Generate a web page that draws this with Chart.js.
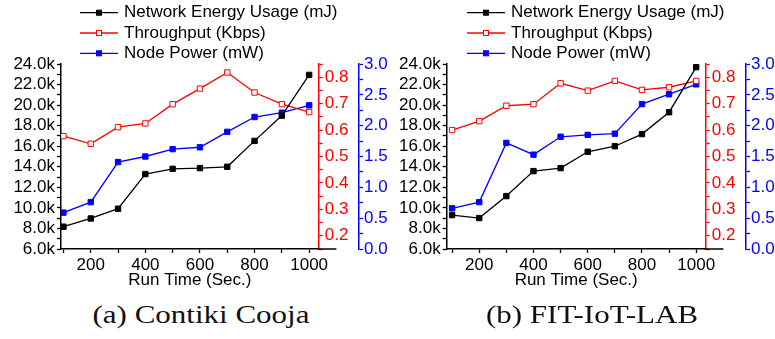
<!DOCTYPE html>
<html>
<head>
<meta charset="utf-8">
<script src="https://cdn.jsdelivr.net/npm/chart.js@4/dist/chart.umd.min.js"></script>
<style>
  body { margin: 0; width: 775px; height: 339px; overflow: hidden; position: relative; background: #fff; }
  canvas { position: absolute; top: 0; }
  .caption {
    position: absolute; top: 302px; width: 300px; text-align: center;
    font-family: "Liberation Serif", "DejaVu Serif", serif; font-size: 25px; line-height: 26px;
    transform: scaleX(1.24); transform-origin: center; color: #111;
  }
</style>
</head>
<body>
<canvas id="chartA" width="390" height="300" style="left:0"></canvas>
<canvas id="chartB" width="390" height="300" style="left:387px"></canvas>
<div class="caption" style="left:51px">(a) Contiki Cooja</div>
<div class="caption" style="left:442px">(b) FIT-IoT-LAB</div>
<script>
// run time on the x axis (seconds)
const runTime = [100, 200, 300, 400, 500, 600, 700, 800, 900, 1000];

// (a) Contiki Cooja
const energyA = [8170, 8970, 9920, 13290, 13800, 13870, 14000, 16520, 18980, 22940];
const throughputA = [0.577, 0.548, 0.611, 0.625, 0.698, 0.757, 0.818, 0.742, 0.698, 0.668];
const powerA = [0.59, 0.76, 1.41, 1.50, 1.62, 1.65, 1.90, 2.14, 2.21, 2.33];

// (b) FIT-IoT-LAB
const energyB = [9300, 9010, 11150, 13580, 13870, 15460, 16000, 17180, 19310, 23690];
const throughputB = [0.600, 0.634, 0.692, 0.698, 0.777, 0.749, 0.786, 0.752, 0.762, 0.786];
const powerB = [0.66, 0.76, 1.72, 1.53, 1.82, 1.85, 1.87, 2.35, 2.51, 2.67];

const seriesLabels = ['Network Energy Usage (mJ)', 'Throughput (Kbps)', 'Node Power (mW)'];

Chart.defaults.font.family = '"Liberation Sans", Arial, sans-serif';
Chart.defaults.font.size = 17;
Chart.defaults.color = '#000';

const BLACK = '#000';
const RED = '#ff0000';
const BLUE = '#0000ff';

// legend drawn as line + marker, stacked at the top left
const lineLegend = {
    id: 'lineLegend',
    afterDraw(chart) {
        const ctx = chart.ctx;
        ctx.save();
        chart.data.datasets.forEach((ds, i) => {
            const y = 12.7 + i * 20.3;
            ctx.strokeStyle = ds.borderColor;
            ctx.lineWidth = 1.3;
            ctx.beginPath();
            ctx.moveTo(80, y);
            ctx.lineTo(118, y);
            ctx.stroke();
            ctx.fillStyle = ds.pointBackgroundColor;
            ctx.lineWidth = 1;
            ctx.fillRect(96.5, y - 2.5, 5, 5);
            ctx.strokeRect(96.5, y - 2.5, 5, 5);
            ctx.fillStyle = '#000';
            ctx.font = '17px "Liberation Sans", Arial, sans-serif';
            ctx.textBaseline = 'middle';
            ctx.fillText(ds.label, 124, y);
        });
        ctx.restore();
    }
};

// the bottom axis runs a little past the throughput axis
const axisTail = {
    id: 'axisTail',
    afterDraw(chart) {
        const ctx = chart.ctx;
        const x = chart.scales.x;
        const y = chart.chartArea.bottom;
        ctx.save();
        ctx.strokeStyle = BLACK;
        ctx.lineWidth = 1.5;
        ctx.beginPath();
        ctx.moveTo(chart.chartArea.right - 1, y);
        ctx.lineTo(x.getPixelForValue(1100), y);
        ctx.stroke();
        ctx.restore();
    }
};

function makeChart(id, energy, throughput, power, xMin, leftWidth) {
    const ctx = document.getElementById(id).getContext('2d');
    return new Chart(ctx, {
        type: 'line',
        data: {
            datasets: [
                {
                    label: seriesLabels[0],
                    data: runTime.map((t, i) => ({ x: t, y: energy[i] })),
                    yAxisID: 'yE',
                    borderColor: BLACK,
                    pointBackgroundColor: BLACK,
                    pointBorderColor: BLACK,
                },
                {
                    label: seriesLabels[1],
                    data: runTime.map((t, i) => ({ x: t, y: throughput[i] })),
                    yAxisID: 'yT',
                    borderColor: RED,
                    pointBackgroundColor: '#fff',
                    pointBorderColor: RED,
                },
                {
                    label: seriesLabels[2],
                    data: runTime.map((t, i) => ({ x: t, y: power[i] })),
                    yAxisID: 'yP',
                    borderColor: BLUE,
                    pointBackgroundColor: BLUE,
                    pointBorderColor: BLUE,
                },
            ],
        },
        options: {
            responsive: false,
            animation: false,
            devicePixelRatio: 1,
            layout: { padding: { top: 64, bottom: 8, left: 0, right: 0 } },
            plugins: {
                legend: { display: false },
                tooltip: { enabled: false },
            },
            elements: {
                line: { borderWidth: 1.3, tension: 0 },
                point: { pointStyle: 'rect', radius: 3.8, borderWidth: 1 },
            },
            scales: {
                x: {
                    type: 'linear',
                    min: xMin,
                    max: 1035,
                    border: { color: BLACK, width: 1.5 },
                    grid: { drawOnChartArea: false, tickLength: 4, tickColor: BLACK, tickWidth: 1.3 },
                    ticks: {
                        stepSize: 100,
                        includeBounds: false,
                        autoSkip: false,
                        maxRotation: 0,
                        padding: 2,
                        callback: (v) => (v % 200 === 0 ? String(v) : ''),
                    },
                    title: { display: true, text: 'Run Time (Sec.)', padding: { top: 0, bottom: 1 } },
                    afterFit: (s) => { s.height = 43; },
                },
                yE: {
                    position: 'left',
                    min: 6000,
                    max: 24000,
                    border: { color: BLACK, width: 1.5 },
                    grid: { drawOnChartArea: false, tickLength: 4, tickColor: BLACK, tickWidth: 1.3 },
                    ticks: {
                        stepSize: 1000,
                        autoSkip: false,
                        padding: 2,
                        callback: (v) => (v % 2000 === 0 ? (v / 1000).toFixed(1) + 'k' : ''),
                    },
                    afterFit: (s) => { s.width = leftWidth; },
                },
                yT: {
                    position: 'right',
                    weight: 1,
                    min: 0.15,
                    max: 0.85,
                    border: { color: RED, width: 1.5 },
                    grid: { drawOnChartArea: false, tickLength: 4, tickColor: RED, tickWidth: 1.3 },
                    ticks: {
                        stepSize: 0.05,
                        autoSkip: false,
                        color: RED,
                        padding: 2,
                        callback: (v) => {
                            const c = Math.round(v * 100);
                            return c % 10 === 0 && c >= 20 && c <= 80 ? (c / 100).toFixed(1) : '';
                        },
                    },
                    afterFit: (s) => { s.width = 40.3; },
                },
                yP: {
                    position: 'right',
                    weight: 2,
                    min: 0,
                    max: 3,
                    border: { color: BLUE, width: 1.5 },
                    grid: { drawOnChartArea: false, tickLength: 4, tickColor: BLUE, tickWidth: 1.3 },
                    ticks: {
                        stepSize: 0.25,
                        autoSkip: false,
                        color: BLUE,
                        padding: 1,
                        callback: (v) => {
                            const c = Math.round(v * 100);
                            return c % 50 === 0 ? (c / 100).toFixed(1) : '';
                        },
                    },
                    afterFit: (s) => { s.width = 390 - 359; },
                },
            },
        },
        plugins: [lineLegend, axisTail],
    });
}

makeChart('chartA', energyA, throughputA, powerA, 91, 61);
makeChart('chartB', energyB, throughputB, powerB, 80, 59.7);
</script>
</body>
</html>
